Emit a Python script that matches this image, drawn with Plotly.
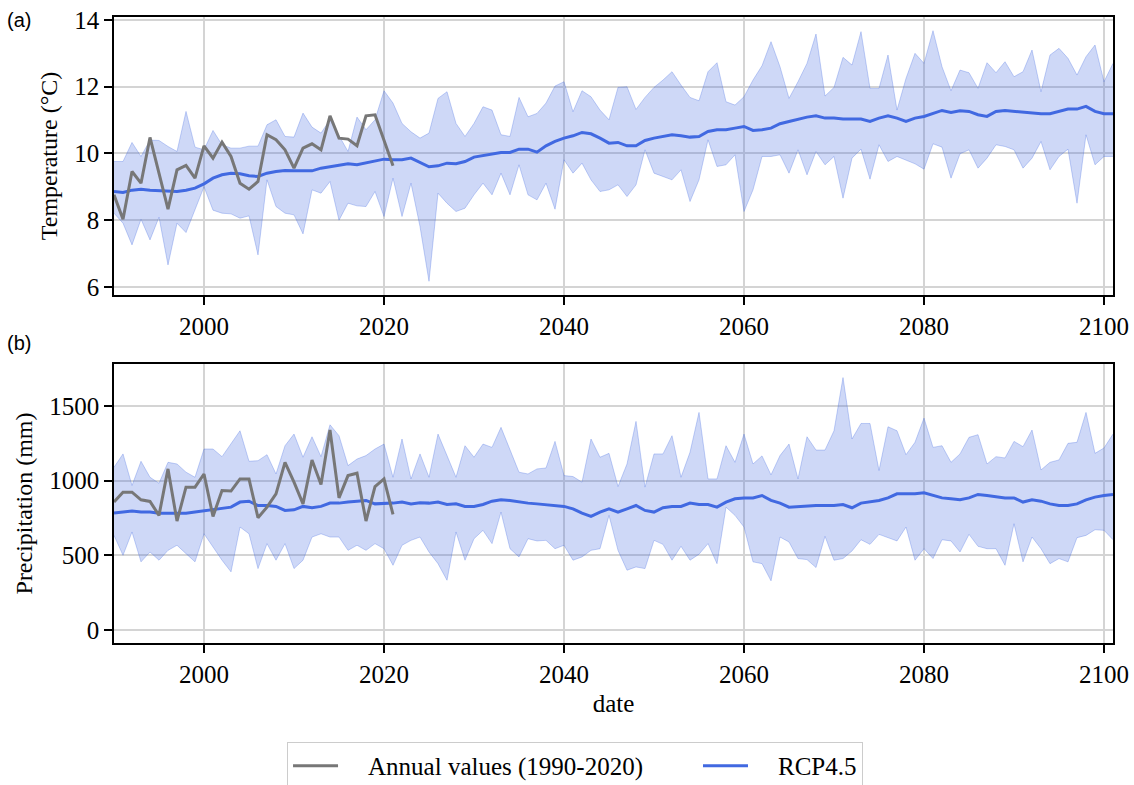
import plotly.graph_objects as go

years = list(range(1990, 2102))
obs_years = list(range(1990, 2022))

temp_obs = [8.76, 8.03, 9.46, 9.11, 10.48, 9.41, 8.33, 9.51, 9.64, 9.26,
            10.23, 9.86, 10.34, 9.91, 9.11, 8.93, 9.16, 10.56, 10.41, 10.11,
            9.56, 10.16, 10.29, 10.11, 11.13, 10.46, 10.43, 10.23, 11.13, 11.16,
            10.40, 9.63]

temp_mean = [8.86, 8.83, 8.90, 8.93, 8.90, 8.88, 8.86, 8.86, 8.90, 8.96,
             9.09, 9.26, 9.36, 9.41, 9.39, 9.33, 9.31, 9.41, 9.46, 9.49,
             9.48, 9.49, 9.48, 9.56, 9.61, 9.66, 9.69, 9.66, 9.71, 9.76,
             9.83, 9.81, 9.81, 9.86, 9.73, 9.60, 9.63, 9.71, 9.69, 9.76,
             9.89, 9.93, 9.98, 10.03, 10.03, 10.13, 10.13, 10.04, 10.23, 10.36,
             10.46, 10.53, 10.63, 10.59, 10.46, 10.31, 10.33, 10.23, 10.23, 10.39,
             10.46, 10.51, 10.56, 10.53, 10.49, 10.51, 10.66, 10.71, 10.71, 10.76,
             10.81, 10.69, 10.71, 10.76, 10.89, 10.96, 11.03, 11.09, 11.13, 11.06,
             11.06, 11.03, 11.03, 11.03, 10.96, 11.06, 11.13, 11.06, 10.96, 11.06,
             11.11, 11.19, 11.29, 11.23, 11.28, 11.26, 11.16, 11.11, 11.26, 11.29,
             11.26, 11.23, 11.21, 11.19, 11.19, 11.26, 11.33, 11.33, 11.41, 11.26,
             11.19, 11.19]

temp_upper = [9.76, 9.76, 10.33, 9.91, 10.40, 10.39, 10.21, 10.06, 11.26, 10.19,
              10.11, 10.69, 10.26, 10.16, 10.16, 10.22, 10.22, 10.86, 11.01, 10.51,
              10.49, 11.21, 10.79, 10.61, 11.01, 10.53, 10.06, 11.09, 10.71, 11.01,
              11.88, 11.51, 10.90, 10.65, 10.46, 10.61, 11.65, 11.85, 10.90, 10.51,
              10.90, 11.40, 11.30, 10.56, 10.51, 11.68, 11.10, 11.20, 11.51, 12.02,
              12.15, 11.25, 11.88, 11.70, 11.30, 11.01, 11.98, 12.00, 11.32, 11.68,
              11.98, 12.20, 12.45, 12.05, 11.68, 11.58, 12.45, 12.72, 11.55, 11.45,
              11.70, 12.20, 12.63, 13.35, 12.60, 11.65, 12.15, 12.70, 13.58, 11.72,
              11.98, 12.88, 12.65, 13.65, 11.95, 11.95, 12.95, 11.30, 12.25, 13.00,
              12.70, 13.68, 12.60, 11.88, 12.50, 12.42, 11.95, 12.72, 12.42, 12.75,
              12.30, 12.45, 13.10, 11.85, 12.95, 13.15, 12.85, 12.35, 12.90, 13.25,
              12.15, 12.70]

temp_lower = [8.21, 7.91, 7.26, 8.03, 7.41, 8.09, 6.66, 7.91, 7.63, 8.30,
              9.00, 8.30, 8.21, 8.19, 8.06, 8.13, 6.96, 9.21, 8.41, 8.21,
              8.16, 7.59, 8.91, 8.81, 9.16, 8.00, 8.51, 8.43, 8.41, 8.86,
              8.11, 9.26, 8.11, 9.11, 7.81, 6.17, 8.81, 8.51, 8.26, 8.36,
              8.76, 9.11, 8.76, 9.41, 8.76, 9.66, 8.76, 8.61, 9.11, 8.33,
              9.81, 9.41, 9.71, 9.21, 8.86, 8.91, 9.06, 8.71, 9.06, 10.11,
              9.41, 9.31, 9.21, 9.51, 8.56, 9.21, 10.41, 9.61, 9.66, 9.96,
              8.26, 8.91, 9.91, 9.91, 9.96, 9.41, 10.11, 9.36, 10.06, 9.66,
              9.91, 8.66, 9.86, 10.13, 9.23, 10.26, 9.76, 9.91, 9.79, 9.69,
              9.53, 10.29, 10.19, 9.26, 9.99, 10.11, 9.56, 9.86, 10.26, 10.21,
              10.11, 9.56, 9.86, 10.36, 9.51, 9.91, 10.13, 8.51, 10.56, 9.66,
              9.91, 9.91]

prec_obs = [856, 922, 922, 871, 860, 767, 1078, 729, 956, 956,
            1044, 760, 933, 930, 1011, 1011, 751, 822, 911, 1122,
            989, 844, 1138, 973, 1338, 884, 1033, 1049, 729, 960,
            1011, 773]

prec_mean = [782, 789, 796, 789, 789, 782, 782, 778, 782, 789,
             796, 804, 811, 822, 856, 862, 833, 833, 827, 800,
             804, 827, 818, 827, 849, 849, 856, 862, 867, 844,
             844, 849, 856, 844, 852, 849, 856, 840, 844, 827,
             827, 840, 862, 871, 867, 856, 849, 844, 838, 833,
             827, 811, 782, 760, 789, 811, 789, 811, 833, 800,
             789, 818, 827, 827, 849, 840, 840, 822, 856, 878,
             884, 884, 900, 867, 849, 822, 827, 833, 833, 833,
             833, 840, 818, 849, 856, 867, 884, 911, 911, 911,
             918, 900, 884, 878, 871, 884, 907, 900, 893, 884,
             884, 856, 871, 862, 844, 833, 833, 844, 871, 889,
             900, 907]

prec_upper = [1089, 1178, 967, 1129, 1022, 982, 1122, 1111, 1056, 1022,
              1211, 1211, 1160, 1244, 1333, 1129, 1133, 1173, 1044, 1233,
              1311, 1156, 1293, 1160, 1373, 1300, 1100, 1144, 1167, 1211,
              1244, 1022, 1278, 1011, 1178, 1022, 1311, 1167, 1022, 1233,
              1156, 1244, 1222, 1356, 1211, 1056, 1044, 1078, 1084, 1262,
              1033, 1027, 989, 1278, 1156, 1182, 960, 1111, 1396, 956,
              1178, 1178, 1300, 1022, 1189, 1456, 1011, 1011, 1233, 1122,
              1311, 1111, 1165, 1038, 1167, 1244, 1011, 1293, 1204, 1204,
              1333, 1689, 1278, 1382, 1382, 1067, 1360, 1333, 1173, 1256,
              1418, 1222, 1233, 1122, 1178, 1289, 1307, 1111, 1160, 1151,
              1262, 1227, 1338, 1071, 1122, 1138, 1249, 1256, 1456, 1182,
              1218, 1311]

prec_lower = [633, 500, 656, 456, 522, 467, 533, 567, 511, 456,
              644, 556, 467, 389, 689, 644, 411, 578, 467, 578,
              411, 467, 622, 644, 622, 622, 533, 567, 533, 578,
              544, 433, 567, 600, 622, 522, 444, 333, 656, 467,
              611, 667, 578, 789, 544, 489, 611, 596, 600, 544,
              567, 467, 489, 533, 544, 767, 533, 400, 422, 411,
              600, 573, 467, 560, 467, 507, 578, 444, 822, 767,
              689, 456, 444, 329, 622, 589, 478, 471, 418, 627,
              467, 478, 529, 604, 573, 640, 618, 596, 689, 467,
              544, 478, 604, 596, 522, 640, 560, 544, 544, 433,
              711, 456, 622, 544, 444, 478, 456, 618, 633, 671,
              667, 604]

x_ticks = [2000, 2020, 2040, 2060, 2080, 2100]
temp_ticks = [6, 8, 10, 12, 14]
prec_ticks = [0, 500, 1000, 1500]

BLUE = "#4169e1"
GRAY = "#777777"
FILL = "rgba(65,105,225,0.26)"
EDGE = "rgba(65,105,225,0.30)"
SERIF = "Liberation Serif"
PAD = "\u00a0\u00a0\u00a0\u00a0"
TRAIL = "\u00a0" * 8

fig = go.Figure()

for xa, ya, lo, up, mean, obs, first in [
    ("x", "y", temp_lower, temp_upper, temp_mean, temp_obs, True),
    ("x2", "y2", prec_lower, prec_upper, prec_mean, prec_obs, False),
]:
    fig.add_trace(go.Scatter(x=years, y=lo, mode="lines", line=dict(color=EDGE, width=1),
                             showlegend=False, hoverinfo="skip", xaxis=xa, yaxis=ya))
    fig.add_trace(go.Scatter(x=years, y=up, mode="lines", line=dict(color=EDGE, width=1),
                             fill="tonexty", fillcolor=FILL,
                             showlegend=False, hoverinfo="skip", xaxis=xa, yaxis=ya))
    fig.add_trace(go.Scatter(x=years, y=mean, mode="lines", line=dict(color=BLUE, width=3),
                             name=PAD + "RCP4.5", showlegend=first,
                             xaxis=xa, yaxis=ya))
    fig.add_trace(go.Scatter(x=obs_years, y=obs, mode="lines", line=dict(color=GRAY, width=3),
                             name=PAD + "Annual values (1990-2020)" + TRAIL, showlegend=first,
                             xaxis=xa, yaxis=ya))

axis_common = dict(showline=True, linecolor="black", linewidth=1.5, mirror=True,
                   ticks="outside", ticklen=8, tickwidth=1.5, tickcolor="black",
                   showgrid=True, gridcolor="#d4d4d4", gridwidth=1.5, zeroline=False,
                   tickfont=dict(family=SERIF, size=25, color="black"))

fig.update_layout(
    width=1134, height=785,
    margin=dict(l=114, r=21, t=17, b=142, autoexpand=False),
    paper_bgcolor="white", plot_bgcolor="white",
    font=dict(family=SERIF, size=25, color="black"),
    xaxis=dict(domain=[0, 1], range=[1990, 2101], tickvals=x_ticks, anchor="y", **axis_common),
    yaxis=dict(domain=[0.556, 1.0], range=[5.76, 14.09], tickvals=temp_ticks, anchor="x",
               title=dict(text="Temperature (°C)", standoff=10, font=dict(family=SERIF, size=24)),
               **axis_common),
    xaxis2=dict(domain=[0, 1], range=[1990, 2101], tickvals=x_ticks, anchor="y2",
                title=dict(text="date", standoff=8, font=dict(family=SERIF, size=25)),
                **axis_common),
    yaxis2=dict(domain=[0, 0.4457], range=[-87, 1780], tickvals=prec_ticks, anchor="x2",
                title=dict(text="Precipitation (mm)", standoff=10, font=dict(family=SERIF, size=24)),
                **axis_common),
    legend=dict(orientation="h", x=0.4615, xanchor="center", y=-0.158, yanchor="top",
                bordercolor="#cccccc", borderwidth=1, bgcolor="white", traceorder="reversed",
                font=dict(family=SERIF, size=25), itemwidth=45),
    annotations=[
        dict(text="(a)", xref="paper", yref="paper", x=-0.109, y=0.995, xanchor="left",
             yanchor="middle", showarrow=False, font=dict(family="Liberation Sans", size=20)),
        dict(text="(b)", xref="paper", yref="paper", x=-0.109, y=0.479, xanchor="left",
             yanchor="middle", showarrow=False, font=dict(family="Liberation Sans", size=20)),
    ],
)

fig.write_html("out.html")
